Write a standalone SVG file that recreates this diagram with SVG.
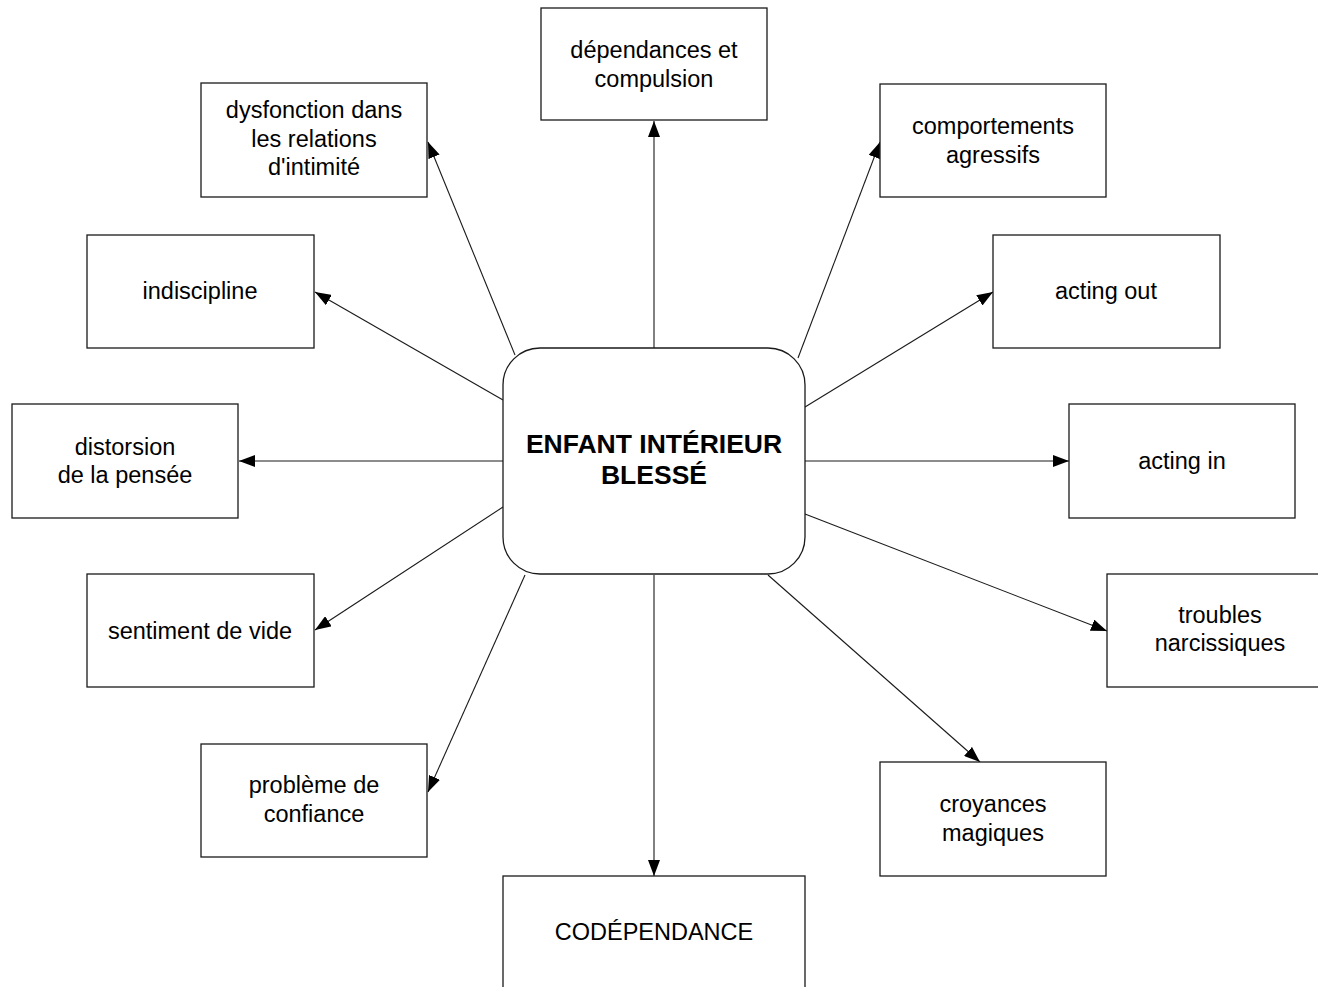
<svg xmlns="http://www.w3.org/2000/svg" width="1318" height="987" viewBox="0 0 1318 987">
  <style>
    .box { fill: #fff; stroke: #1a1a1a; stroke-width: 1.3; }
    .lbl { font-family: "Liberation Sans", Arial, sans-serif; font-size: 23.5px; fill: #000; text-anchor: middle; }
    .hub { font-family: "Liberation Sans", Arial, sans-serif; font-size: 26.5px; font-weight: bold; fill: #000; text-anchor: middle; }
    .edge { stroke: #1a1a1a; stroke-width: 1.1; fill: none; marker-end: url(#arrow); }
  </style>
  <defs>
    <marker id="arrow" markerUnits="userSpaceOnUse" markerWidth="16" markerHeight="12" refX="16" refY="6" orient="auto">
      <path d="M0,0 L16,6 L0,12 Z" fill="#000"/>
    </marker>
  </defs>
  <rect width="1318" height="987" fill="#fff"/>

  <g id="connectors">
    <line class="edge" x1="654" y1="348" x2="654" y2="121"/>
    <line class="edge" x1="515" y1="355" x2="428" y2="142"/>
    <line class="edge" x1="798" y1="358" x2="880" y2="142"/>
    <line class="edge" x1="503" y1="400" x2="315" y2="292"/>
    <line class="edge" x1="805" y1="407" x2="993" y2="292"/>
    <line class="edge" x1="503" y1="461" x2="239" y2="461"/>
    <line class="edge" x1="805" y1="461" x2="1069" y2="461"/>
    <line class="edge" x1="503" y1="507" x2="315" y2="630"/>
    <line class="edge" x1="805" y1="514" x2="1107" y2="631"/>
    <line class="edge" x1="768" y1="575" x2="980" y2="762"/>
    <line class="edge" x1="654" y1="575" x2="654" y2="876"/>
    <line class="edge" x1="525" y1="575" x2="428" y2="792"/>
  </g>

  <g id="hub">
    <rect class="box" x="503" y="348" width="302" height="226" rx="37" ry="37"/>
    <text class="hub" x="654" y="453">ENFANT INTÉRIEUR</text>
    <text class="hub" x="654" y="484">BLESSÉ</text>
  </g>

  <g id="n-dependances">
    <rect class="box" x="541" y="8" width="226" height="112"/>
    <text class="lbl" x="654" y="58">dépendances et</text>
    <text class="lbl" x="654" y="87">compulsion</text>
  </g>

  <g id="n-dysfonction">
    <rect class="box" x="201" y="83" width="226" height="114"/>
    <text class="lbl" x="314" y="118">dysfonction dans</text>
    <text class="lbl" x="314" y="147">les relations</text>
    <text class="lbl" x="314" y="175">d'intimité</text>
  </g>

  <g id="n-comportements">
    <rect class="box" x="880" y="84" width="226" height="113"/>
    <text class="lbl" x="993" y="134">comportements</text>
    <text class="lbl" x="993" y="163">agressifs</text>
  </g>

  <g id="n-indiscipline">
    <rect class="box" x="87" y="235" width="227" height="113"/>
    <text class="lbl" x="200" y="299">indiscipline</text>
  </g>

  <g id="n-acting-out">
    <rect class="box" x="993" y="235" width="227" height="113"/>
    <text class="lbl" x="1106" y="299">acting out</text>
  </g>

  <g id="n-distorsion">
    <rect class="box" x="12" y="404" width="226" height="114"/>
    <text class="lbl" x="125" y="455">distorsion</text>
    <text class="lbl" x="125" y="483">de la pensée</text>
  </g>

  <g id="n-acting-in">
    <rect class="box" x="1069" y="404" width="226" height="114"/>
    <text class="lbl" x="1182" y="469">acting in</text>
  </g>

  <g id="n-sentiment">
    <rect class="box" x="87" y="574" width="227" height="113"/>
    <text class="lbl" x="200" y="639">sentiment de vide</text>
  </g>

  <g id="n-troubles">
    <rect class="box" x="1107" y="574" width="226" height="113"/>
    <text class="lbl" x="1220" y="623">troubles</text>
    <text class="lbl" x="1220" y="651">narcissiques</text>
  </g>

  <g id="n-probleme">
    <rect class="box" x="201" y="744" width="226" height="113"/>
    <text class="lbl" x="314" y="793">problème de</text>
    <text class="lbl" x="314" y="822">confiance</text>
  </g>

  <g id="n-croyances">
    <rect class="box" x="880" y="762" width="226" height="114"/>
    <text class="lbl" x="993" y="812">croyances</text>
    <text class="lbl" x="993" y="841">magiques</text>
  </g>

  <g id="n-codependance">
    <rect class="box" x="503" y="876" width="302" height="140"/>
    <text class="lbl" x="654" y="940">CODÉPENDANCE</text>
  </g>
</svg>
